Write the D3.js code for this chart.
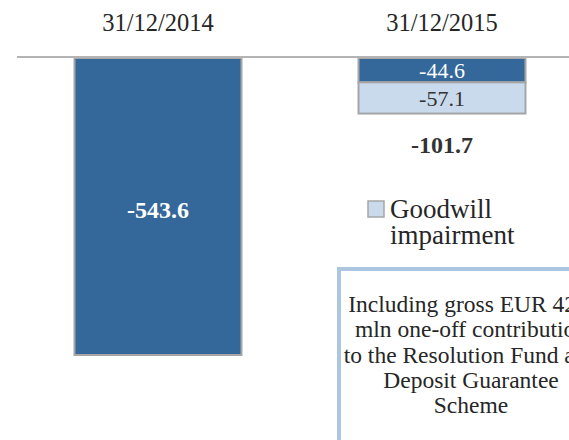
<!DOCTYPE html>
<html>
<head>
<meta charset="utf-8">
<script src="https://cdn.jsdelivr.net/npm/d3@7"></script>
<style>
  body { margin: 0; background: #fff; }
  svg { display: block; font-family: "Liberation Serif", "DejaVu Serif", serif; }
</style>
</head>
<body>
<div id="content"></div>
<script>
const categories = ['31/12/2014', '31/12/2015'];
const otherValues = [-543.6, -44.6];
const goodwillValues = [0, -57.1];
const totals = [-543.6, -101.7];
const legendLabel = ['Goodwill', 'impairment'];
const noteLines = [
    'Including gross EUR 42.3',
    'mln one-off contribution',
    'to the Resolution Fund and',
    'Deposit Guarantee',
    'Scheme'
];

const width = 569;
const height = 440;
const zeroY = 58;

const fig = d3.select('#content')
    .append('svg')
    .attr('width', width)
    .attr('height', height);

const x = d3.scaleBand()
    .domain(categories)
    .range([16, 584])
    .paddingInner(0.412)
    .paddingOuter(0.206);

const y = d3.scaleLinear()
    .domain([0, -600])
    .range([zeroY, zeroY + 600 * 297 / 543.6]);

const rows = categories.map((c, i) => ({
    cat: c,
    other: otherValues[i],
    goodwill: goodwillValues[i]
}));

const stacked = d3.stack()
    .keys(['other', 'goodwill'])
    .offset(d3.stackOffsetDiverging)(rows);

const colors = {other: '#34679a', goodwill: '#c8daec'};

// category labels on top
fig.append('g')
    .selectAll('text')
    .data(categories)
    .join('text')
    .attr('x', (d) => x(d) + x.bandwidth() / 2)
    .attr('y', 31)
    .attr('text-anchor', 'middle')
    .attr('font-size', 24.5)
    .attr('fill', '#262626')
    .text((d) => d);

// bars
fig.append('g')
    .selectAll('g')
    .data(stacked)
    .join('g')
    .attr('fill', (s) => colors[s.key])
    .selectAll('rect')
    .data((s) => s.filter((d) => d[1] - d[0] !== 0))
    .join('rect')
    .attr('x', (d) => x(d.data.cat))
    .attr('y', (d) => y(d[1]))
    .attr('width', x.bandwidth())
    .attr('height', (d) => y(d[0]) - y(d[1]))
    .attr('stroke', '#a6a6a6')
    .attr('stroke-width', 2);

// segment labels (only where a bar has more than one segment)
const segLabels = [];
stacked.forEach((s) => {
    s.forEach((d, i) => {
        const multi = otherValues[i] !== 0 && goodwillValues[i] !== 0;
        if (multi && d[1] - d[0] !== 0) {
            segLabels.push({key: s.key, cat: d.data.cat, v: d.data[s.key], y0: d[0], y1: d[1]});
        }
    });
});

fig.append('g')
    .selectAll('text')
    .data(segLabels)
    .join('text')
    .attr('x', (d) => x(d.cat) + x.bandwidth() / 2)
    .attr('y', (d) => (y(d.y0) + y(d.y1)) / 2 + 8)
    .attr('text-anchor', 'middle')
    .attr('font-size', 22)
    .attr('fill', (d) => d.key === 'other' ? '#ffffff' : '#333333')
    .text((d) => d.v.toFixed(1));

// totals: inside the bar when it has one segment, below otherwise
fig.append('g')
    .selectAll('text')
    .data(totals.map((t, i) => ({t, cat: categories[i], single: goodwillValues[i] === 0})))
    .join('text')
    .attr('x', (d) => x(d.cat) + x.bandwidth() / 2)
    .attr('y', (d) => d.single ? y(d.t / 2) + 11 : y(d.t) + 39)
    .attr('text-anchor', 'middle')
    .attr('font-size', 24)
    .attr('font-weight', 'bold')
    .attr('fill', (d) => d.single ? '#ffffff' : '#333333')
    .text((d) => d.t.toFixed(1));

// zero line
fig.append('line')
    .attr('x1', 17)
    .attr('x2', width)
    .attr('y1', y(0) - 1)
    .attr('y2', y(0) - 1)
    .attr('stroke', '#b3b3b3')
    .attr('stroke-width', 2);

// legend
const legend = fig.append('g');
legend.append('rect')
    .attr('x', 368)
    .attr('y', 201)
    .attr('width', 16)
    .attr('height', 16)
    .attr('fill', colors.goodwill)
    .attr('stroke', '#a6a6a6')
    .attr('stroke-width', 1.5);
legend.selectAll('text')
    .data(legendLabel)
    .join('text')
    .attr('x', 390)
    .attr('y', (d, i) => 218 + i * 26)
    .attr('font-size', 27)
    .attr('fill', '#262626')
    .text((d) => d);

// note box
const note = fig.append('g');
note.append('rect')
    .attr('x', 339)
    .attr('y', 269)
    .attr('width', 270)
    .attr('height', 200)
    .attr('fill', '#ffffff')
    .attr('stroke', '#abc6e1')
    .attr('stroke-width', 4);
note.selectAll('text')
    .data(noteLines)
    .join('text')
    .attr('x', 471)
    .attr('y', (d, i) => 312 + i * 25.3)
    .attr('text-anchor', 'middle')
    .attr('font-size', 23.5)
    .attr('fill', '#262626')
    .text((d) => d);
</script>
</body>
</html>
